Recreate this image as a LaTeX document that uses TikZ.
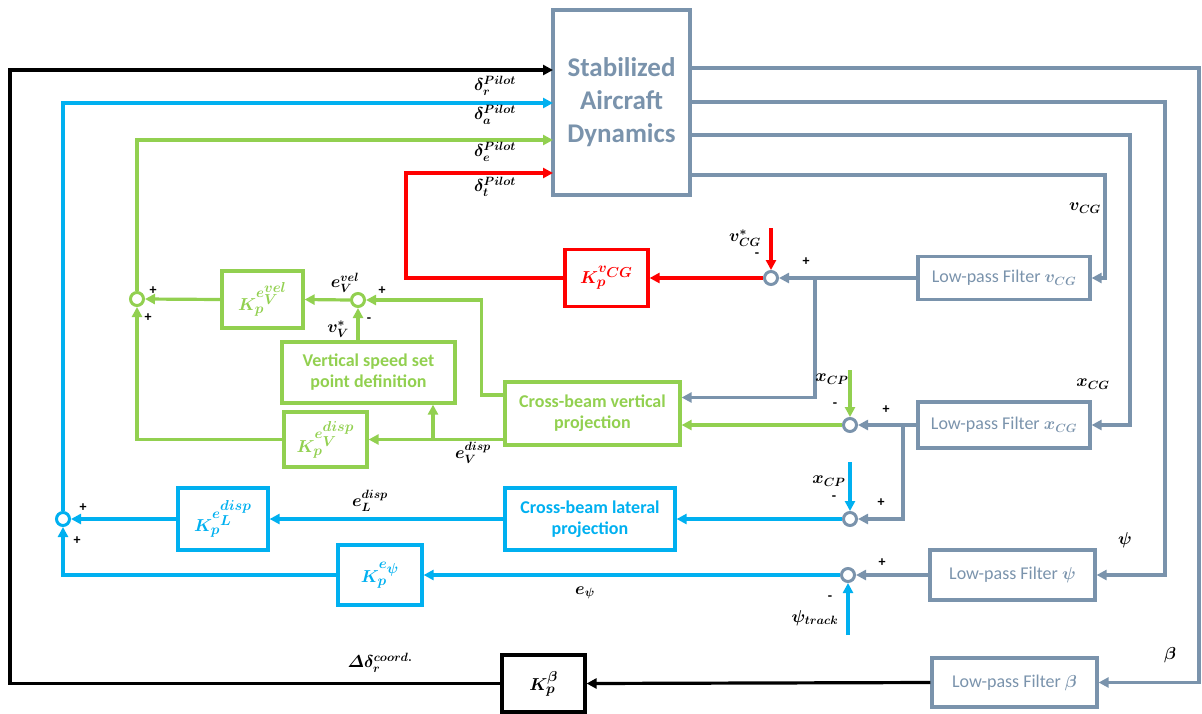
\documentclass[tikz,border=0pt]{standalone}
\usepackage{amsmath}
\usepackage{fontspec}
\setmainfont{Carlito}
\usetikzlibrary{arrows.meta}

\definecolor{slate}{HTML}{7A93AC}
\definecolor{lgreen}{HTML}{92D050}
\definecolor{skyb}{HTML}{00B0F0}

\newcommand{\sst}[1]{{\scriptstyle #1}}

\begin{document}
\begin{tikzpicture}[x=1pt,y=-1pt,>={Triangle[length=10pt,width=10pt]},line width=3.2pt]
    \tikzstyle{box}=[draw, rectangle, line width=3.2pt, align=center, inner sep=2pt]
    \tikzstyle{sum}=[draw, circle, fill=white, line width=3pt, minimum size=13pt, inner sep=0pt]
    \tikzstyle{filt}=[box, draw=slate, text=slate, minimum height=46pt, font=\fontsize{18}{21}\selectfont\boldmath]
    \tikzstyle{gain}=[box, font=\fontsize{19}{21}\selectfont\boldmath]
    \tikzstyle{proj}=[box, font=\bfseries\fontsize{18}{21}\selectfont]
    \tikzstyle{lbl}=[inner sep=0pt, font=\fontsize{17}{19}\selectfont\boldmath]
    \tikzstyle{sgn}=[inner sep=0pt, font=\bfseries\fontsize{14}{15}\selectfont]
    \useasboundingbox (0,0) rectangle (1202,713);

    % plant
    \node [box, slate, minimum width=137pt, minimum height=185pt,
        font=\bfseries\fontsize{27}{33}\selectfont] (sys) at (621.5, 102.5) {Stabilized\\Aircraft\\Dynamics};
    \coordinate (pr) at (553, 70);
    \coordinate (pa) at (553, 103);
    \coordinate (pe) at (553, 140);
    \coordinate (pt) at (553, 173);
    \coordinate (ob) at (690, 68);
    \coordinate (op) at (690, 102);
    \coordinate (ox) at (690, 135);
    \coordinate (ov) at (690, 175);

    % filters
    \node [filt, minimum width=172pt, minimum height=43pt] (fv) at (1004, 278) {Low-pass Filter $v_{CG}$};
    \node [filt, minimum width=172pt] (fx) at (1004, 425) {Low-pass Filter $x_{CG}$};
    \node [filt, minimum width=165pt, minimum height=50pt] (fp) at (1012.5, 575) {Low-pass Filter $\psi$};
    \node [filt, minimum width=165pt, minimum height=49pt] (fb) at (1014.5, 682.5) {Low-pass Filter $\beta$};

    % gains and projections
    \node [gain, red, minimum width=83pt, minimum height=57pt] (kv) at (606.5, 278) {$K_p^{v_{\sst{CG}}}$};
    \node [gain, lgreen, minimum width=81pt, minimum height=57pt] (kvel) at (262.5, 299.5) {$K_p^{e_{\sst{V}}^{\sst{vel}}}$};
    \node [gain, lgreen, minimum width=83pt, minimum height=55pt] (kdisp) at (325.5, 439.5) {$K_p^{e_{\sst{V}}^{\sst{disp}}}$};
    \node [proj, lgreen, minimum width=173pt, minimum height=61pt] (vsp) at (368.5, 372.5) {Vertical speed set\\point definition};
    \node [proj, lgreen, minimum width=175pt, minimum height=63pt] (cbv) at (592.5, 413.5) {Cross-beam vertical\\projection};
    \node [proj, skyb, minimum width=170pt, minimum height=62pt] (cbl) at (590, 519) {Cross-beam lateral\\projection};
    \node [gain, skyb, minimum width=90pt, minimum height=62pt] (kl) at (223, 519) {$K_p^{e_{\sst{L}}^{\sst{disp}}}$};
    \node [gain, skyb, minimum width=84pt, minimum height=60pt] (kpsi) at (380, 575) {$K_p^{e_{\sst{\psi}}}$};
    \node [gain, black, minimum width=83pt, minimum height=57pt] (kb) at (543.5, 683.5) {$K_p^{\beta}$};

    % summing points
    \node [sum, draw=slate] (sv) at (771, 278) {};
    \node [sum, draw=slate] (sxg) at (850, 425) {};
    \node [sum, draw=slate] (sxl) at (850, 519) {};
    \node [sum, draw=slate] (sp) at (848, 575) {};
    \node [sum, draw=lgreen] (sV) at (358, 300) {};
    \node [sum, draw=lgreen] (sE) at (137, 299) {};
    \node [sum, draw=skyb] (sL) at (63, 519) {};

    % external inputs
    \coordinate (vref) at (771, 228);
    \coordinate (xgref) at (850, 370);
    \coordinate (xbref) at (850, 462);
    \coordinate (tk) at (848, 635);
    \coordinate (jv) at (815, 278);
    \coordinate (jx) at (903, 425);
    \coordinate (jd) at (433, 439.5);

    % feedback from plant
    \draw [->, slate] (ob) -- (1199, 68) |- (fb.east);
    \draw [->, slate] (op) -- (1165, 102) |- (fp.east);
    \draw [->, slate] (ox) -- (1130, 135) |- (fx.east);
    \draw [->, slate] (ov) -- (1105, 175) |- (fv.east);
    \draw [->, slate] (fv.west) -- (sv.east);
    \draw [->, slate] (jv) |- ([yshift=16pt]cbv.east);
    \draw [->, slate] (fx.west) -- (sxg.east);
    \draw [->, slate] (jx) |- (sxl.east);
    \draw [->, slate] (fp.west) -- (sp.east);

    % throttle
    \draw [->, red] (vref) -- (sv.north);
    \draw [->, red] (sv.west) -- (kv.east);
    \draw [->, red] (kv.west) -| (406, 173) -- (pt);

    % elevator
    \draw [->, lgreen] (xgref) -- (sxg.north);
    \draw [->, lgreen] (sxg.west) -- ([yshift=-11.5pt]cbv.east);
    \draw [->, lgreen] ([yshift=18.5pt]cbv.west) -- ++(-22, 0) |- (sV.east);
    \draw [->, lgreen] (cbv.west |- kdisp.east) -- (kdisp.east);
    \draw [->, lgreen] (jd) -- (jd |- vsp.south);
    \draw [->, lgreen] (sV.south |- vsp.north) -- (sV.south);
    \draw [->, lgreen] (sV.west) -- (kvel.east);
    \draw [->, lgreen] (kvel.west) -- (sE.east);
    \draw [->, lgreen] (kdisp.west) -| (sE.south);
    \draw [->, lgreen] (sE.north) |- (pe);

    % aileron
    \draw [->, skyb] (xbref) -- (sxl.north);
    \draw [->, skyb] (sxl.west) -- (cbl.east);
    \draw [->, skyb] (cbl.west) -- (kl.east);
    \draw [->, skyb] (kl.west) -- (sL.east);
    \draw [->, skyb] (tk) -- (sp.south);
    \draw [->, skyb] (sp.west) -- (kpsi.east);
    \draw [->, skyb] (kpsi.west) -| (sL.south);
    \draw [->, skyb] (sL.north) |- (pa);

    % rudder
    \draw [->, black] (fb.west) -- (kb.east);
    \draw [->, black] (kb.west) -| (10, 70) -- (pr);

    % signal labels
    \node [lbl] (l1) at (495, 86) {$\delta_r^{Pilot}$};
    \node [lbl] (l2) at (495, 115) {$\delta_a^{Pilot}$};
    \node [lbl] (l3) at (495, 152) {$\delta_e^{Pilot}$};
    \node [lbl] (l4) at (495, 187) {$\delta_t^{Pilot}$};
    \node [lbl] (l5) at (1085, 208) {$v_{CG}$};
    \node [lbl] (l6) at (745, 238) {$v^*_{CG}$};
    \node [lbl] (l7) at (832, 379) {$x_{CP}$};
    \node [lbl] (l8) at (1093, 384) {$x_{CG}$};
    \node [lbl] (l9) at (829, 481) {$x_{CP}$};
    \node [lbl] (l10) at (1125, 540) {$\psi$};
    \node [lbl] (l11) at (815, 618) {$\psi_{track}$};
    \node [lbl] (l12) at (585, 593) {$e_\psi$};
    \node [lbl] (l13) at (1170, 655) {$\beta$};
    \node [lbl] (l14) at (380, 663) {$\varDelta\delta_r^{coord.}$};
    \node [lbl] (l15) at (345, 283) {$e_V^{vel}$};
    \node [lbl] (l16) at (338, 329) {$v_V^*$};
    \node [lbl] (l17) at (473, 453) {$e_V^{disp}$};
    \node [lbl] (l18) at (370, 501) {$e_L^{disp}$};

    % signs
    \node [sgn] (s1) at (757, 255) {-};
    \node [sgn] (s2) at (806, 262) {+};
    \node [sgn] (s3) at (835, 405) {-};
    \node [sgn] (s4) at (886, 410) {+};
    \node [sgn] (s5) at (834, 498) {-};
    \node [sgn] (s6) at (881, 503) {+};
    \node [sgn] (s7) at (882, 563) {+};
    \node [sgn] (s8) at (830, 598) {-};
    \node [sgn] (s9) at (382, 291) {+};
    \node [sgn] (s10) at (369, 320) {-};
    \node [sgn] (s11) at (153, 291) {+};
    \node [sgn] (s12) at (148, 318) {+};
    \node [sgn] (s13) at (83, 508) {+};
    \node [sgn] (s14) at (77, 541) {+};
\end{tikzpicture}
\end{document}
